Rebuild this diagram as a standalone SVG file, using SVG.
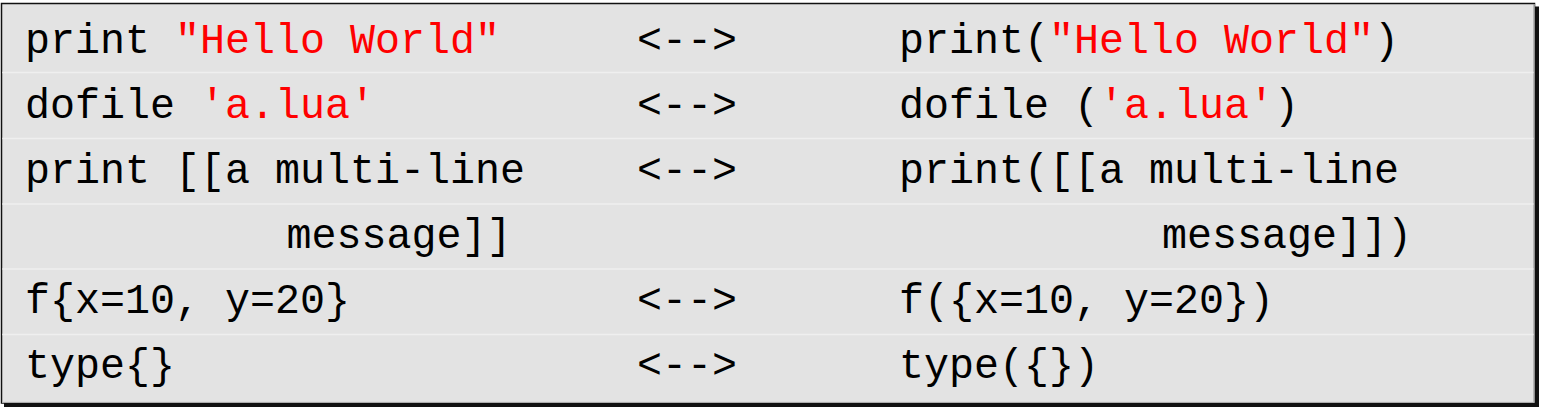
<svg xmlns="http://www.w3.org/2000/svg" width="1541" height="411" viewBox="0 0 1541 411">
<style>
text{font-family:"Liberation Mono","Courier New",monospace;font-size:41.67px;fill:#000}
.s{fill:#ff0000}
.sep{stroke:#efefef;stroke-width:1.5}
</style>
<rect width="1541" height="411" fill="#ffffff"/>
<g id="frame">
<rect x="4" y="6.5" width="1535" height="400.5" fill="#111"/>
<rect x="1.5" y="3.5" width="1533" height="399.5" fill="#e3e3e3" stroke="#111" stroke-width="1.5"/>
<line x1="2" y1="402.3" x2="1534.5" y2="402.3" stroke="#c8c8c8" stroke-width="1"/>
<line x1="1534.2" y1="4" x2="1534.2" y2="402.5" stroke="#c8c8c8" stroke-width="1"/>
</g>
<g id="connectors">
<line class="sep" x1="2.3" y1="72.5" x2="1533.5" y2="72.5"/>
<line class="sep" x1="2.3" y1="138.5" x2="1533.5" y2="138.5"/>
<line class="sep" x1="2.3" y1="204" x2="1533.5" y2="204"/>
<line class="sep" x1="2.3" y1="269" x2="1533.5" y2="269"/>
<line class="sep" x1="2.3" y1="334.5" x2="1533.5" y2="334.5"/>
</g>
<g id="row1">
<text x="25" y="53" xml:space="preserve">print <tspan class="s">"Hello World"</tspan></text>
<text x="637" y="53">&lt;--&gt;</text>
<text x="899" y="53" xml:space="preserve">print(<tspan class="s">"Hello World"</tspan>)</text>
</g>
<g id="row2">
<text x="25" y="118" xml:space="preserve">dofile <tspan class="s">'a.lua'</tspan></text>
<text x="637" y="118">&lt;--&gt;</text>
<text x="899" y="118" xml:space="preserve">dofile (<tspan class="s">'a.lua'</tspan>)</text>
</g>
<g id="row3">
<text x="25" y="183" xml:space="preserve">print [[a multi-line</text>
<text x="637" y="183">&lt;--&gt;</text>
<text x="899" y="183" xml:space="preserve">print([[a multi-line</text>
<text x="286.5" y="248">message]]</text>
<text x="1162" y="248">message]])</text>
</g>
<g id="row5">
<text x="25" y="313" xml:space="preserve">f{x=10, y=20}</text>
<text x="637" y="313">&lt;--&gt;</text>
<text x="899" y="313" xml:space="preserve">f({x=10, y=20})</text>
</g>
<g id="row6">
<text x="25" y="378">type{}</text>
<text x="637" y="378">&lt;--&gt;</text>
<text x="899" y="378">type({})</text>
</g>
</svg>
